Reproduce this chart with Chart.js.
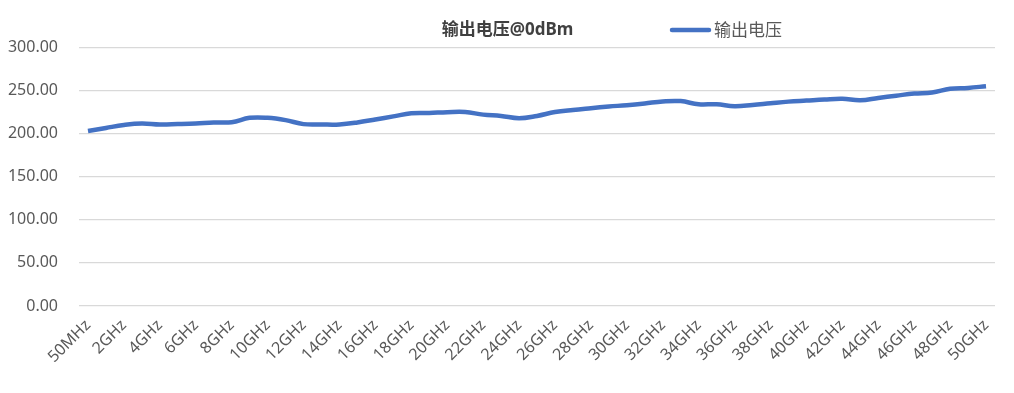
<!DOCTYPE html>
<html>
<head>
<meta charset="utf-8">
<script src="https://cdn.jsdelivr.net/npm/chart.js@4.4.1/dist/chart.umd.min.js"></script>
<style>
  html, body { margin: 0; padding: 0; background: #fff; }
  #wrap { width: 1014px; height: 393px; position: relative; }
</style>
</head>
<body>
<div id="wrap"><canvas id="c"></canvas></div>
<script>
// categorias: 50MHz, 1GHz .. 50GHz
const freqLabels = ['50MHz'];
for (let g = 1; g <= 50; g++) freqLabels.push(g + 'GHz');

// valores (mV)
const outputVoltage = [
  203, 206.6, 210, 211.7, 210.5, 211, 211.7, 212.9, 213.2, 218.3,
  218.3, 215.6, 211, 210.6, 210.6, 212.9, 216.4, 220, 223.6, 224,
  224.8, 225, 222, 220.5, 217.8, 220.5, 225, 227.5, 229.5, 231.4,
  233, 235, 237.3, 237.7, 234, 234, 231.7, 233.2, 235.2, 237.1,
  238.3, 239.5, 240.3, 238.7, 241.4, 244, 246.5, 247.7, 252, 253,
  255
];

const yTicks = [0, 50, 100, 150, 200, 250, 300];

const seriesName = '输出电压';
const chartTitle = '输出电压@0dBm';
const lineColor = '#4472C4';
const FONT = '"Noto Sans", "Noto Sans CJK SC", sans-serif';

// legenda desenhada ao lado do título (mesma linha)
const inlineLegend = {
  id: 'inlineLegend',
  afterDraw(chart) {
    const ctx = chart.ctx;
    const ds = chart.data.datasets[0];
    const y = 30;
    ctx.save();
    ctx.strokeStyle = ds.borderColor;
    ctx.lineWidth = 4.5;
    ctx.lineCap = 'round';
    ctx.beginPath();
    ctx.moveTo(672, y);
    ctx.lineTo(709, y);
    ctx.stroke();
    ctx.fillStyle = '#595959';
    ctx.font = '17px ' + FONT;
    ctx.textBaseline = 'middle';
    ctx.fillText(ds.label, 714, y + 1);
    ctx.restore();
  }
};

new Chart(document.getElementById('c'), {
  type: 'line',
  data: {
    labels: freqLabels,
    datasets: [{
      label: seriesName,
      data: outputVoltage,
      borderColor: lineColor,
      backgroundColor: lineColor,
      borderWidth: 4.5,
      pointRadius: 0,
      tension: 0.4,
      fill: false
    }]
  },
  options: {
    responsive: true,
    maintainAspectRatio: false,
    animation: false,
    layout: { padding: { left: 8, right: 7, top: 0, bottom: 0 } },
    plugins: {
      legend: { display: false },
      tooltip: { enabled: false },
      title: {
        display: true,
        text: chartTitle,
        color: '#404040',
        font: { family: FONT, size: 17, weight: 'bold' },
        padding: { top: 20, bottom: 7 }
      }
    },
    scales: {
      x: {
        offset: true,
        grid: { display: false },
        border: { display: false },
        ticks: {
          autoSkip: false,
          maxRotation: 45,
          minRotation: 45,
          color: '#595959',
          font: { family: FONT, size: 16 },
          padding: 2,
          callback: function(v, i) { return i % 2 === 0 ? freqLabels[i] : ''; }
        },
        afterFit: (axis) => { axis.paddingLeft = 0; axis.paddingRight = 19; axis.height = 87; }
      },
      y: {
        min: 0,
        max: 300,
        afterBuildTicks: (axis) => { axis.ticks = yTicks.map(v => ({ value: v })); },
        afterFit: (axis) => { axis.width = 71; },
        grid: { color: '#d9d9d9', lineWidth: 1.3, drawTicks: false },
        border: { display: false },
        ticks: {
          color: '#595959',
          font: { family: FONT, size: 16 },
          padding: 21,
          callback: (v) => v.toFixed(2)
        }
      }
    }
  },
  plugins: [inlineLegend]
});
</script>
</body>
</html>
